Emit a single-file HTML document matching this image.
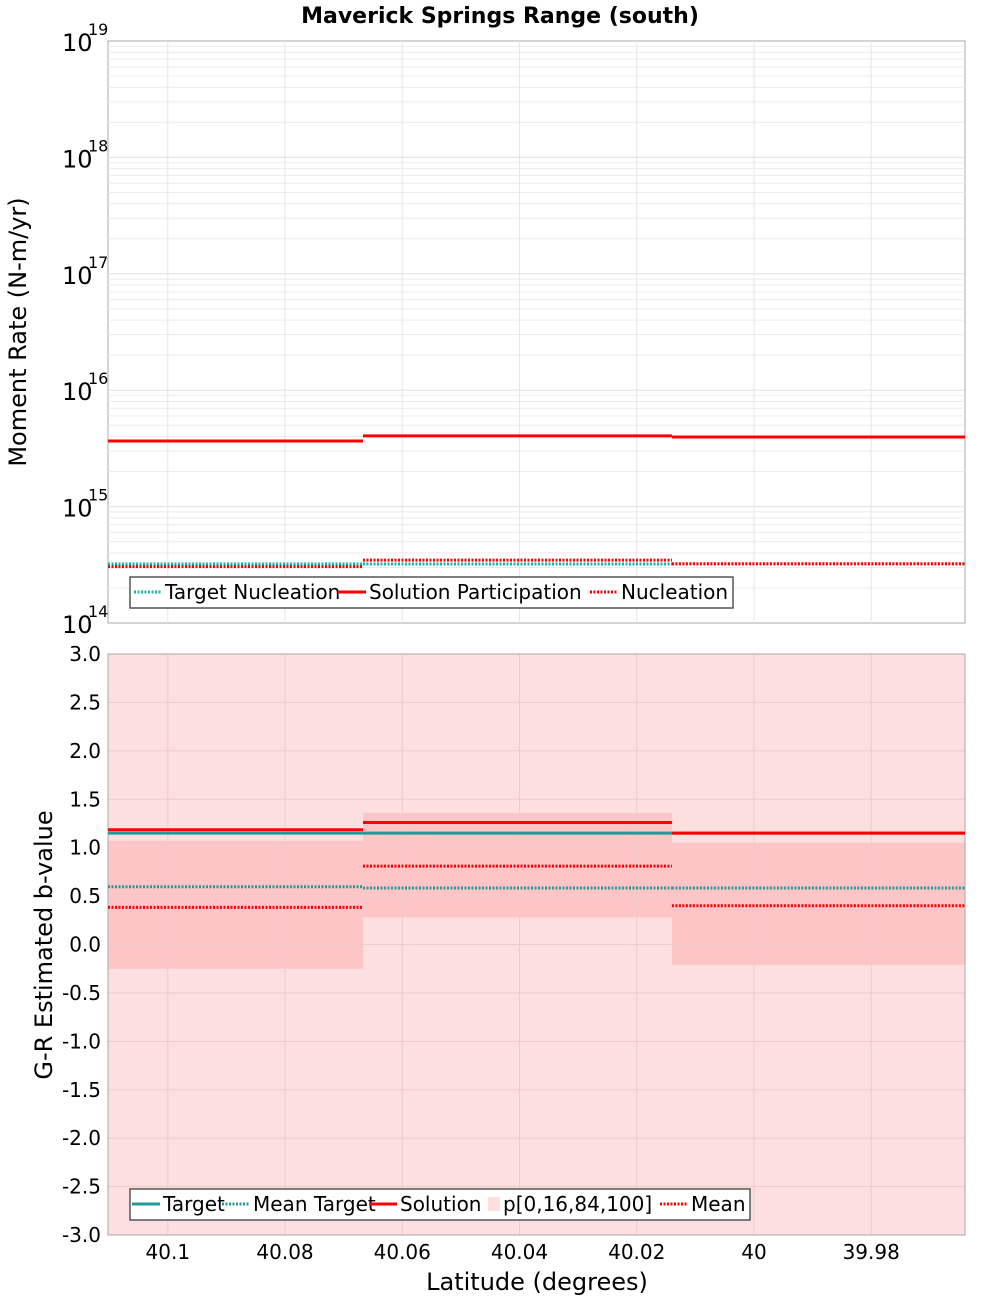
<!DOCTYPE html>
<html><head><meta charset="utf-8"><style>body{margin:0;background:#fff}svg text{font-family:"DejaVu Sans","Liberation Sans",sans-serif}</style></head>
<body>
<svg id="c" width="1000" height="1300" xmlns="http://www.w3.org/2000/svg"></svg>
<script>
const segEdges=[40.1102,40.0667,40.014,39.964];
const xTicks=[40.1,40.08,40.06,40.04,40.02,40,39.98];
const xTickLabels=["40.1","40.08","40.06","40.04","40.02","40","39.98"];
const targetNucl=[3.21e14,3.21e14,3.21e14];
const solPart=[3.66e15,4.05e15,3.96e15];
const nucl=[3.05e14,3.47e14,3.23e14];
const bTarget=[1.15,1.15,1.15];
const bMeanTarget=[0.597,0.583,0.583];
const bSolution=[1.185,1.26,1.15];
const bP16=[-0.25,0.28,-0.21];
const bP84=[1.07,1.36,1.05];
const bMean=[0.384,0.81,0.40];
const yTicksB=[3,2.5,2,1.5,1,0.5,0,-0.5,-1,-1.5,-2,-2.5,-3];

const svg=document.getElementById('c');const NS='http://www.w3.org/2000/svg';
function el(t,a,p){const e=document.createElementNS(NS,t);for(const k in a)e.setAttribute(k,a[k]);(p||svg).appendChild(e);return e;}
const L=108,R=965;
const x=v=>L+(segEdges[0]-v)/(segEdges[0]-segEdges[3])*(R-L);
const T1=41,B1=623,T2=654,B2=1235;
const yTop=v=>T1+(19-Math.log10(v))/5*(B1-T1);
const yBot=v=>T2+(3-v)/6*(B2-T2);

let t=el('text',{x:500,y:23,'text-anchor':'middle','font-size':22,'font-weight':'bold'});t.textContent='Maverick Springs Range (south)';


el('rect',{x:L,y:T1,width:R-L,height:B1-T1,fill:'#fff',stroke:'#aaa',});
for(let d=14;d<19;d++){for(let m=2;m<10;m++){const yy=yTop(m*Math.pow(10,d));el('line',{x1:L,x2:R,y1:yy,y2:yy,stroke:'#ececec'});}}
for(let d=15;d<19;d++){const yy=yTop(Math.pow(10,d));el('line',{x1:L,x2:R,y1:yy,y2:yy,stroke:'#e0e0e0'});}
xTicks.forEach(v=>{el('line',{x1:x(v),x2:x(v),y1:T1,y2:B1,stroke:'#e6e6e6'});});
for(let d=14;d<=19;d++){const yy=yTop(Math.pow(10,d));
 const g=el('text',{x:62,y:yy+10,'font-size':24});g.textContent='10';
 const s=el('text',{x:88,y:yy-6,'font-size':16});s.textContent=String(d);}
t=el('text',{x:0,y:0,'font-size':24,'text-anchor':'middle',transform:'translate(26,332) rotate(-90)'});t.textContent='Moment Rate (N-m/yr)';


function step(arr,yf,style,name){for(let i=0;i<3;i++){const e=el('line',Object.assign({x1:x(segEdges[i]),x2:x(segEdges[i+1]),y1:yf(arr[i]),y2:yf(arr[i])},style));}}
step(targetNucl,yTop,{stroke:'#1ab0b0','stroke-width':3,'stroke-dasharray':'2,1.5'},'target-nucleation');
step(solPart,yTop,{stroke:'#f00','stroke-width':3},'solution-participation');
step(nucl,yTop,{stroke:'#f00','stroke-width':3,'stroke-dasharray':'2,1.5'},'nucleation');

el('rect',{x:130,y:577,width:603,height:31,fill:'#fff',stroke:'#555','stroke-width':1.5,});
function legItem(x0,y0,style,label,name){el('line',Object.assign({x1:x0,x2:x0+28,y1:y0,y2:y0},style));const e=el('text',{x:x0+31,y:y0+7,'font-size':20});e.textContent=label;}
legItem(134,592,{stroke:'#1ab0b0','stroke-width':3,'stroke-dasharray':'2,1.5'},'Target Nucleation','legend-target-nucleation');
legItem(338,592,{stroke:'#f00','stroke-width':3},'Solution Participation','legend-solution-participation');
legItem(590,592,{stroke:'#f00','stroke-width':3,'stroke-dasharray':'2,1.5'},'Nucleation','legend-nucleation');

el('rect',{x:L,y:T2,width:R-L,height:B2-T2,fill:'#fedfe0',stroke:'#aaa',});
for(let i=0;i<3;i++){const e=el('rect',{x:x(segEdges[i]),width:x(segEdges[i+1])-x(segEdges[i]),y:yBot(bP84[i]),height:yBot(bP16[i])-yBot(bP84[i]),fill:'#fec5c6'});}
yTicksB.forEach(v=>{const yy=yBot(v);el('line',{x1:L,x2:R,y1:yy,y2:yy,stroke:'#efcaca'});
 const g=el('text',{x:101,y:yy+7,'font-size':20,'text-anchor':'end'});g.textContent=v.toFixed(1);});
xTicks.forEach(v=>el('line',{x1:x(v),x2:x(v),y1:T2,y2:B2,stroke:'#efcaca'}));
el('rect',{x:L,y:T2,width:R-L,height:B2-T2,fill:'none',stroke:'#aaa'});
t=el('text',{x:0,y:0,'font-size':24,'text-anchor':'middle',transform:'translate(52,945) rotate(-90)'});t.textContent='G-R Estimated b-value';

step(bTarget,yBot,{stroke:'#239a9a','stroke-width':3},'target');
step(bSolution,yBot,{stroke:'#f00','stroke-width':3},'solution');
step(bMeanTarget,yBot,{stroke:'#239a9a','stroke-width':3,'stroke-dasharray':'2,1.5'},'mean-target');
step(bMean,yBot,{stroke:'#f00','stroke-width':3,'stroke-dasharray':'2,1.5'},'mean');

xTicks.forEach((v,i)=>{const g=el('text',{x:x(v),y:1259,'font-size':20,'text-anchor':'middle'});g.textContent=xTickLabels[i];});
t=el('text',{x:537,y:1290,'font-size':24,'text-anchor':'middle'});t.textContent='Latitude (degrees)';


el('rect',{x:130,y:1189,width:620,height:31,fill:'#fff',stroke:'#555','stroke-width':1.5,});
legItem(132,1204,{stroke:'#239a9a','stroke-width':3},'Target','legend-target');
legItem(222,1204,{stroke:'#239a9a','stroke-width':3,'stroke-dasharray':'2,1.5'},'Mean Target','legend-mean-target');
legItem(369,1204,{stroke:'#f00','stroke-width':3},'Solution','legend-solution');
el('rect',{x:488,y:1197,width:12,height:14,fill:'#fedfe0'});
t=el('text',{x:503,y:1211,'font-size':20});t.textContent='p[0,16,84,100]';
legItem(660,1204,{stroke:'#f00','stroke-width':3,'stroke-dasharray':'2,1.5'},'Mean','legend-mean');
</script>
</body></html>
